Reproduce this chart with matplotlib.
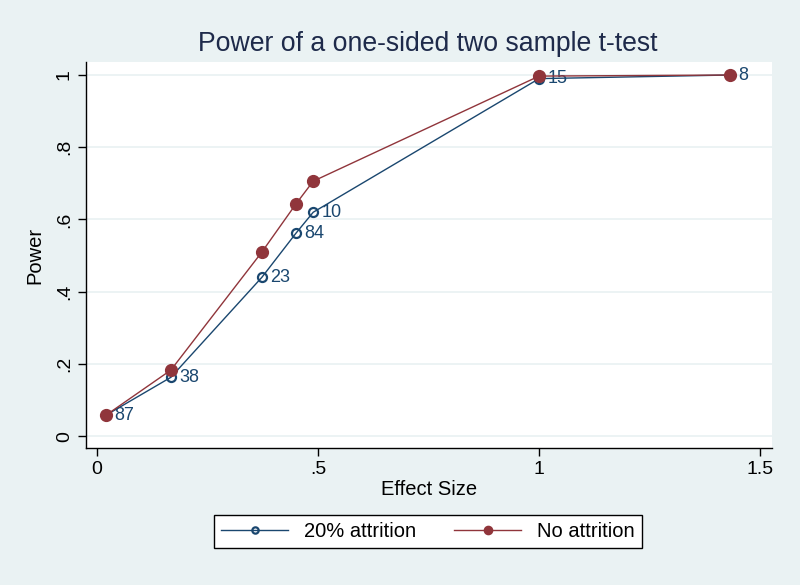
import numpy as np
import matplotlib.pyplot as plt

plt.rcParams['font.family'] = ['Liberation Sans', 'DejaVu Sans']

effect = [0.02, 0.167, 0.373, 0.45, 0.489, 1.0, 1.432]
power_attr = [0.058, 0.163, 0.44, 0.562, 0.62, 0.99, 1.0]
power_noattr = [0.058, 0.183, 0.51, 0.643, 0.706, 0.997, 1.0]
n_labels = ['87', '38', '23', '84', '10', '15', '8']

bg = '#eaf2f3'
navy = '#1a476f'
maroon = '#90353b'

fig = plt.figure(figsize=(8, 5.85), dpi=100, facecolor=bg)
ax = fig.add_axes([0.1075, 0.234, 0.8575, 0.66])
ax.set_facecolor('white')

ax.plot(effect, power_attr, '-o', color=navy, lw=1, ms=6.5, mfc='none', mec=navy, mew=1.6,
        label='20% attrition', zorder=3)
ax.plot(effect, power_noattr, '-o', color=maroon, lw=1, ms=8.5, mfc=maroon, mec=maroon,
        label='No attrition', zorder=4)
for x, y, s in zip(effect, power_attr, n_labels):
    ax.annotate(s, (x, y), xytext=(6, 0), textcoords='offset points', va='center', ha='left',
                color=navy, fontsize=13)

ax.set_xlim(-0.025, 1.527)
ax.set_ylim(-0.033, 1.036)
ax.set_xticks([0, 0.5, 1, 1.5])
ax.set_xticklabels(['0', '.5', '1', '1.5'])
ax.set_yticks([0, 0.2, 0.4, 0.6, 0.8, 1])
ax.set_yticklabels(['0', '.2', '.4', '.6', '.8', '1'], rotation=90, va='center')
ax.tick_params(labelsize=14, length=6, width=1, direction='out', colors='black')
ax.grid(axis='y', color=bg, lw=1.3)
ax.set_axisbelow(True)
for side in ['top', 'right']:
    ax.spines[side].set_visible(False)
for side in ['left', 'bottom']:
    ax.spines[side].set_linewidth(1)

ax.set_xlabel('Effect Size', fontsize=14.5, labelpad=1)
ax.set_ylabel('Power', fontsize=14.5, labelpad=8)
fig.text(0.535, 0.925, 'Power of a one-sided two sample t-test', ha='center', va='center',
         fontsize=19.2, color='#1e2a4a')

leg = fig.legend(loc='center', bbox_to_anchor=(0.535, 0.0915), ncol=2,
                 fontsize=14.5, frameon=True, fancybox=False, edgecolor='black',
                 framealpha=1, handlelength=3.3, columnspacing=1.9, borderpad=0.35,
                 markerscale=0.7)
leg.get_frame().set_linewidth(1)

fig.savefig('out.png', dpi=100, facecolor=bg)
